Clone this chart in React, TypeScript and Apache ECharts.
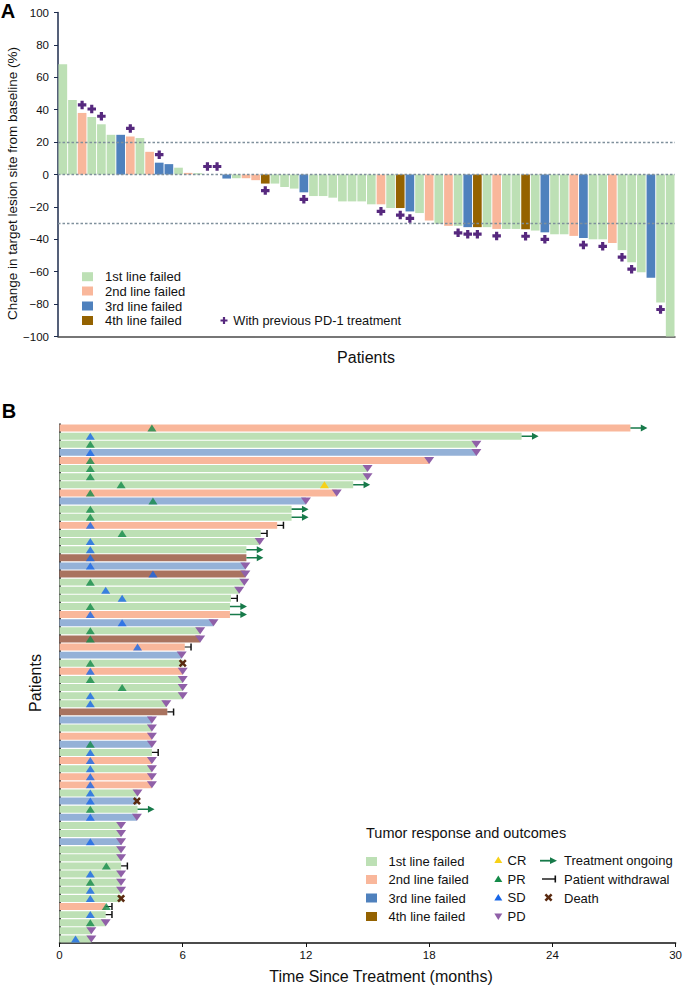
import React, { useEffect, useRef } from "react";
import * as echarts from "echarts";

// ---------- Panel A: waterfall ----------
const waterfallValues = [
  68, 46, 38, 35.5, 31, 24.5, 24.5, 23.5, 22.5, 14,
  7.3, 6.4, 4.2, 1, 0.8, 0, 0, -2.5, -2.3, -2.3,
  -3.5, -5.6, -5.6, -7.7, -8.7, -11, -13.3, -13.3, -14.3, -16.6,
  -16.6, -16.6, -18.4, -18.4, -20.7, -20.7, -22.8, -23.8, -28.4, -30.5,
  -31.7, -31.7, -32.5, -32.5, -32.5, -33.6, -33.6, -33.6, -33.8, -34.6,
  -35.7, -36.9, -36.9, -37.9, -39.2, -40, -40, -42.3, -46.7, -54.1,
  -60.4, -63.7, -79, -100,
];
// prior treatment line failed (1..4)
const waterfallLine = [
  1, 1, 2, 1, 1, 1, 3, 2, 1, 2,
  3, 3, 1, 2, 1, 1, 1, 3, 1, 2,
  2, 4, 1, 1, 1, 3, 1, 1, 1, 1,
  1, 1, 1, 2, 1, 4, 3, 1, 2, 1,
  2, 1, 3, 4, 1, 2, 1, 1, 4, 1,
  3, 1, 1, 2, 3, 1, 1, 2, 1, 1,
  1, 3, 1, 1,
];
// bars (1-based) of patients with previous PD-1 treatment
const priorPD1Bars = [3, 4, 5, 8, 11, 16, 17, 22, 26, 34, 36, 37, 42, 43, 44, 46, 49, 51, 55, 57, 59, 60, 63];
const referenceLines = [20, 0, -30];
const lineLabels = ["1st line failed", "2nd line failed", "3rd line failed", "4th line failed"];

// ---------- Panel B: swimmer ----------
const swimLine = [
  2, 1, 1, 3, 2, 1, 1, 1, 2, 3,
  1, 1, 2, 1, 1, 1, 4, 3, 4, 1,
  1, 1, 1, 2, 3, 1, 4, 2, 3, 1,
  2, 1, 1, 1, 1, 4, 3, 1, 2, 3,
  1, 2, 1, 2, 2, 1, 3, 1, 3, 1,
  1, 3, 1, 1, 1, 1, 1, 1, 1, 2,
  1, 1, 1, 1,
];
const swimMonths = [
  27.8, 22.5, 20.3, 20.3, 18.0, 15.0, 15.0, 14.3, 13.5, 12.0,
  11.3, 11.3, 10.6, 9.8, 9.75, 9.1, 9.1, 9.05, 9.05, 9.0,
  8.75, 8.35, 8.3, 8.3, 7.5, 6.85, 6.85, 6.1, 5.95, 6.0,
  6.0, 6.0, 6.0, 6.0, 5.2, 5.25, 4.5, 4.5, 4.5, 4.5,
  4.5, 4.5, 4.5, 4.5, 4.5, 3.8, 3.77, 3.8, 3.77, 3.0,
  3.0, 3.0, 3.0, 3.0, 3.0, 3.0, 3.0, 3.0, 3.0, 2.25,
  2.25, 2.25, 1.55, 1.55,
];
const bestResponse = [
  "PR", "SD", "PR", "SD", "PR", "PR", "PR", "PR", "PR", "PR",
  "PR", "PR", "SD", "PR", "SD", "SD", "SD", "SD", "SD", "PR",
  "SD", "SD", "PR", "SD", "SD", "PR", "PR", "SD", "", "PR",
  "SD", "PR", "PR", "SD", "SD", "", "", "", "", "PR",
  "SD", "SD", "SD", "SD", "SD", "SD", "SD", "PR", "SD", "",
  "", "SD", "", "", "PR", "SD", "PR", "SD", "SD", "PR",
  "SD", "PR", "", "SD",
];
const responseMonth = [
  4.5, 1.5, 1.5, 1.5, 1.5, 1.5, 1.5, 3.0, 1.5, 4.55,
  1.5, 1.5, 1.5, 3.05, 1.5, 1.5, 1.5, 1.5, 4.55, 1.5,
  2.25, 3.05, 1.5, 1.5, 3.05, 1.5, 1.5, 3.8, 0, 1.5,
  1.5, 1.5, 3.05, 1.5, 1.5, 0, 0, 0, 0, 1.5,
  1.5, 1.5, 1.5, 1.5, 1.5, 1.5, 1.5, 1.5, 1.5, 0,
  0, 1.5, 0, 0, 2.28, 1.5, 1.5, 1.5, 1.5, 2.28,
  1.5, 1.5, 0, 0.78,
];
const crPatients = [8];
const crMonths = [12.9];
const outcome = [
  "ongoing", "ongoing", "PD", "PD", "PD", "PD", "PD", "ongoing", "PD", "PD",
  "ongoing", "ongoing", "withdrawal", "withdrawal", "PD", "ongoing", "ongoing", "PD", "PD", "PD",
  "PD", "withdrawal", "ongoing", "ongoing", "PD", "PD", "PD", "withdrawal", "PD", "death",
  "PD", "PD", "PD", "PD", "PD", "withdrawal", "PD", "PD", "PD", "PD",
  "withdrawal", "PD", "PD", "PD", "PD", "PD", "death", "ongoing", "PD", "PD",
  "PD", "PD", "PD", "PD", "withdrawal", "PD", "PD", "PD", "death", "withdrawal",
  "withdrawal", "PD", "PD", "PD",
];

// ---------- styles ----------
const FONT = "'Liberation Sans', Arial, Helvetica, sans-serif";
const PAL_A = ["#bde0b5", "#f9b79b", "#4f81bd", "#946200"];
const PAL_B = ["#bde0b5", "#f9b79b", "#94b1d7", "#a9735f"];
const PLUS_COLOR = "#56287e";
const C_CR = "#f7d117";
const C_PR = "#138a48";
const C_SD = "#1766e8";
const C_PD = "#9060a8";
const C_ARROW = "#177a4a";
const C_DEATH = "#5a2a10";

const PLUS = "path://M2.5,0H5.5V2.5H8V5.5H5.5V8H2.5V5.5H0V2.5H2.5Z";
const ARROW = "path://M0,3.1H11V0L18,4L11,8V4.9H0Z";
const WITHDRAW = "path://M0,3.3H6V0H7.6V8H6V4.7H0Z";
const CROSS = "path://M0,1.8L1.8,0L4,2.2L6.2,0L8,1.8L5.8,4L8,6.2L6.2,8L4,5.8L1.8,8L0,6.2L2.2,4Z";

function buildOption() {
  const idsA = waterfallValues.map((_, i) => "A" + (i + 1));
  const idsB = swimMonths.map((_, i) => "P" + (i + 1));

  const respSeries = (type: string, color: string) => ({
    type: "scatter",
    xAxisIndex: 1,
    yAxisIndex: 1,
    symbol: "triangle",
    symbolSize: [9, 7],
    z: 5,
    itemStyle: { color },
    data: bestResponse
      .map((r, i) => (r === type ? [responseMonth[i], i] : null))
      .filter((d) => d !== null),
  });
  const outcomeSeries = (type: string, extra: any) => ({
    type: "scatter",
    xAxisIndex: 1,
    yAxisIndex: 1,
    z: 4,
    data: outcome
      .map((o, i) => (o === type ? [swimMonths[i], i] : null))
      .filter((d) => d !== null),
    ...extra,
  });

  const legendA: any[] = [];
  const cyA = [276.7, 291, 306, 320.5];
  lineLabels.forEach((lab, i) => {
    legendA.push({ type: "rect", shape: { x: 82, y: cyA[i] - 4.5, width: 11, height: 9 }, style: { fill: PAL_A[i] } });
    legendA.push({
      type: "text", x: 105, y: cyA[i],
      style: { text: lab, font: `13px ${FONT}`, fill: "#111", textVerticalAlign: "middle" },
    });
  });
  legendA.push({
    type: "polygon",
    shape: { points: [[222.9, 317], [225.1, 317], [225.1, 319.4], [227.5, 319.4], [227.5, 321.6], [225.1, 321.6], [225.1, 324], [222.9, 324], [222.9, 321.6], [220.5, 321.6], [220.5, 319.4], [222.9, 319.4]] },
    style: { fill: PLUS_COLOR },
  });
  legendA.push({
    type: "text", x: 233.3, y: 320.5,
    style: { text: "With previous PD-1 treatment", font: `12.8px ${FONT}`, fill: "#111", textVerticalAlign: "middle" },
  });

  const legendB: any[] = [];
  const cyB = [861.5, 879.5, 898, 916.5];
  legendB.push({
    type: "text", x: 366, y: 833,
    style: { text: "Tumor response and outcomes", font: `14.5px ${FONT}`, fill: "#111", textVerticalAlign: "middle" },
  });
  lineLabels.forEach((lab, i) => {
    legendB.push({ type: "rect", shape: { x: 366, y: cyB[i] - 4.5, width: 11, height: 9 }, style: { fill: PAL_A[i] } });
    legendB.push({
      type: "text", x: 388.5, y: cyB[i],
      style: { text: lab, font: `13px ${FONT}`, fill: "#111", textVerticalAlign: "middle" },
    });
  });
  const respLeg = [
    ["CR", C_CR, false],
    ["PR", C_PR, false],
    ["SD", C_SD, false],
    ["PD", C_PD, true],
  ] as [string, string, boolean][];
  const cyR = [860, 879, 897.5, 916.5];
  respLeg.forEach(([lab, col, down], i) => {
    const cx = 498.3, cy = cyR[i];
    const pts = down
      ? [[cx - 4, cy - 3], [cx + 4, cy - 3], [cx, cy + 3.5]]
      : [[cx - 4, cy + 3], [cx + 4, cy + 3], [cx, cy - 3.5]];
    legendB.push({ type: "polygon", shape: { points: pts }, style: { fill: col } });
    legendB.push({
      type: "text", x: 507.5, y: cy,
      style: { text: lab, font: `13px ${FONT}`, fill: "#111", textVerticalAlign: "middle" },
    });
  });
  // ongoing arrow
  legendB.push({ type: "rect", shape: { x: 540, y: 859.8, width: 11, height: 1.8 }, style: { fill: C_ARROW } });
  legendB.push({ type: "polygon", shape: { points: [[550, 857.3], [557, 860.7], [550, 864]] }, style: { fill: C_ARROW } });
  // withdrawal
  legendB.push({ type: "rect", shape: { x: 542, y: 878.3, width: 13, height: 1.4 }, style: { fill: "#111" } });
  legendB.push({ type: "rect", shape: { x: 554.5, y: 875.5, width: 1.6, height: 7 }, style: { fill: "#111" } });
  // death
  legendB.push({
    type: "polygon",
    shape: { points: [[544.5, 895.3], [546.3, 893.5], [548.5, 895.7], [550.7, 893.5], [552.5, 895.3], [550.3, 897.5], [552.5, 899.7], [550.7, 901.5], [548.5, 899.3], [546.3, 901.5], [544.5, 899.7], [546.7, 897.5]] },
    style: { fill: C_DEATH },
  });
  const outLeg = ["Treatment ongoing", "Patient withdrawal", "Death"];
  const cyO = [860.5, 879, 898];
  outLeg.forEach((lab, i) => {
    legendB.push({
      type: "text", x: 564, y: cyO[i],
      style: { text: lab, font: `13px ${FONT}`, fill: "#111", textVerticalAlign: "middle" },
    });
  });

  const titles: any[] = [
    { type: "text", x: 8, y: 11, style: { text: "A", font: `bold 20px ${FONT}`, fill: "#000", textAlign: "center", textVerticalAlign: "middle" } },
    { type: "text", x: 9, y: 411, style: { text: "B", font: `bold 20px ${FONT}`, fill: "#000", textAlign: "center", textVerticalAlign: "middle" } },
    {
      type: "text", x: 12.5, y: 183.5, rotation: Math.PI / 2,
      style: { text: "Change in target lesion site from baseline (%)", font: `13.5px ${FONT}`, fill: "#111", textAlign: "center", textVerticalAlign: "middle" },
    },
    { type: "text", x: 366, y: 357, style: { text: "Patients", font: `16px ${FONT}`, fill: "#111", textAlign: "center", textVerticalAlign: "middle" } },
    {
      type: "text", x: 35, y: 683, rotation: Math.PI / 2,
      style: { text: "Patients", font: `16px ${FONT}`, fill: "#111", textAlign: "center", textVerticalAlign: "middle" },
    },
    { type: "text", x: 381, y: 976.5, style: { text: "Time Since Treatment (months)", font: `16px ${FONT}`, fill: "#111", textAlign: "center", textVerticalAlign: "middle" } },
  ];

  return {
    animation: false,
    backgroundColor: "#ffffff",
    textStyle: { fontFamily: FONT },
    grid: [
      { left: 58, top: 12.5, width: 617, height: 324 },
      { left: 59.5, top: 424, width: 621.5, height: 519 },
    ],
    xAxis: [
      {
        gridIndex: 0, type: "category", data: idsA,
        axisLine: { show: true, onZero: false, lineStyle: { color: "#4a4a4a", width: 1.5 } },
        axisTick: { show: false }, axisLabel: { show: false }, splitLine: { show: false },
      },
      {
        gridIndex: 1, type: "value", min: 0, max: 30, interval: 6,
        axisLine: { show: true, onZero: false, lineStyle: { color: "#111", width: 1.5 } },
        axisTick: { show: true, length: 4, lineStyle: { color: "#111" } },
        axisLabel: { fontSize: 11.5, color: "#111", margin: 6, fontFamily: FONT },
        splitLine: { show: false },
      },
    ],
    yAxis: [
      {
        gridIndex: 0, type: "value", min: -100, max: 100, interval: 20,
        axisLine: { show: true, lineStyle: { color: "#1d2b4c", width: 1.5 } },
        axisTick: { show: true, length: 4, lineStyle: { color: "#1d2b4c" } },
        axisLabel: {
          fontSize: 11.5, color: "#111", margin: 9, fontFamily: FONT,
          formatter: (v: number) => String(v).replace("-", "\u2212"),
        },
        splitLine: { show: false },
      },
      {
        gridIndex: 1, type: "category", inverse: true, data: idsB,
        axisLine: { show: true, onZero: false, lineStyle: { color: "#111", width: 1.5 } },
        axisTick: { show: false }, axisLabel: { show: false }, splitLine: { show: false },
      },
    ],
    series: [
      {
        type: "bar", xAxisIndex: 0, yAxisIndex: 0, barCategoryGap: "10%",
        data: waterfallValues.map((v, i) => ({ value: v, itemStyle: { color: PAL_A[waterfallLine[i] - 1] } })),
        markLine: {
          silent: true, symbol: "none", label: { show: false },
          lineStyle: { type: [2.5, 2], color: "#7f909c", width: 1.3 },
          data: referenceLines.map((y) => ({ yAxis: y })),
        },
      },
      {
        type: "scatter", xAxisIndex: 0, yAxisIndex: 0, symbol: PLUS, symbolSize: 8.5, z: 5,
        itemStyle: { color: PLUS_COLOR, opacity: 1 },
        data: priorPD1Bars.map((n) => {
          const v = waterfallValues[n - 1];
          return { value: [n - 1, v], symbolOffset: [0, v >= 0 ? -8 : 7] };
        }),
      },
      {
        type: "bar", xAxisIndex: 1, yAxisIndex: 1, barCategoryGap: "14%",
        data: swimMonths.map((m, i) => ({ value: m, itemStyle: { color: PAL_B[swimLine[i] - 1] } })),
      },
      respSeries("PR", C_PR),
      respSeries("SD", C_SD),
      {
        type: "scatter", xAxisIndex: 1, yAxisIndex: 1, symbol: "triangle", symbolSize: [9, 7], z: 5,
        itemStyle: { color: C_CR, opacity: 1 },
        data: crPatients.map((p, i) => [crMonths[i], p - 1]),
      },
      outcomeSeries("PD", { symbol: "triangle", symbolRotate: 180, symbolSize: [10, 7], itemStyle: { color: C_PD, opacity: 1 } }),
      outcomeSeries("ongoing", { symbol: ARROW, symbolSize: [17, 7], symbolOffset: [8.5, 0], itemStyle: { color: C_ARROW, opacity: 1 } }),
      outcomeSeries("withdrawal", { symbol: WITHDRAW, symbolSize: [7, 7], symbolOffset: [3.5, 0], itemStyle: { color: "#111", opacity: 1 } }),
      outcomeSeries("death", { symbol: CROSS, symbolSize: 8, itemStyle: { color: C_DEATH, opacity: 1 } }),
    ],
    graphic: [...titles, ...legendA, ...legendB],
  };
}

export default function App() {
  const ref = useRef<HTMLDivElement>(null);
  useEffect(() => {
    document.body.style.margin = "0";
    const chart = echarts.init(ref.current as HTMLDivElement, undefined, { renderer: "svg" });
    chart.setOption(buildOption() as any);
    return () => chart.dispose();
  }, []);
  return <div ref={ref} style={{ width: 685, height: 986 }} />;
}
